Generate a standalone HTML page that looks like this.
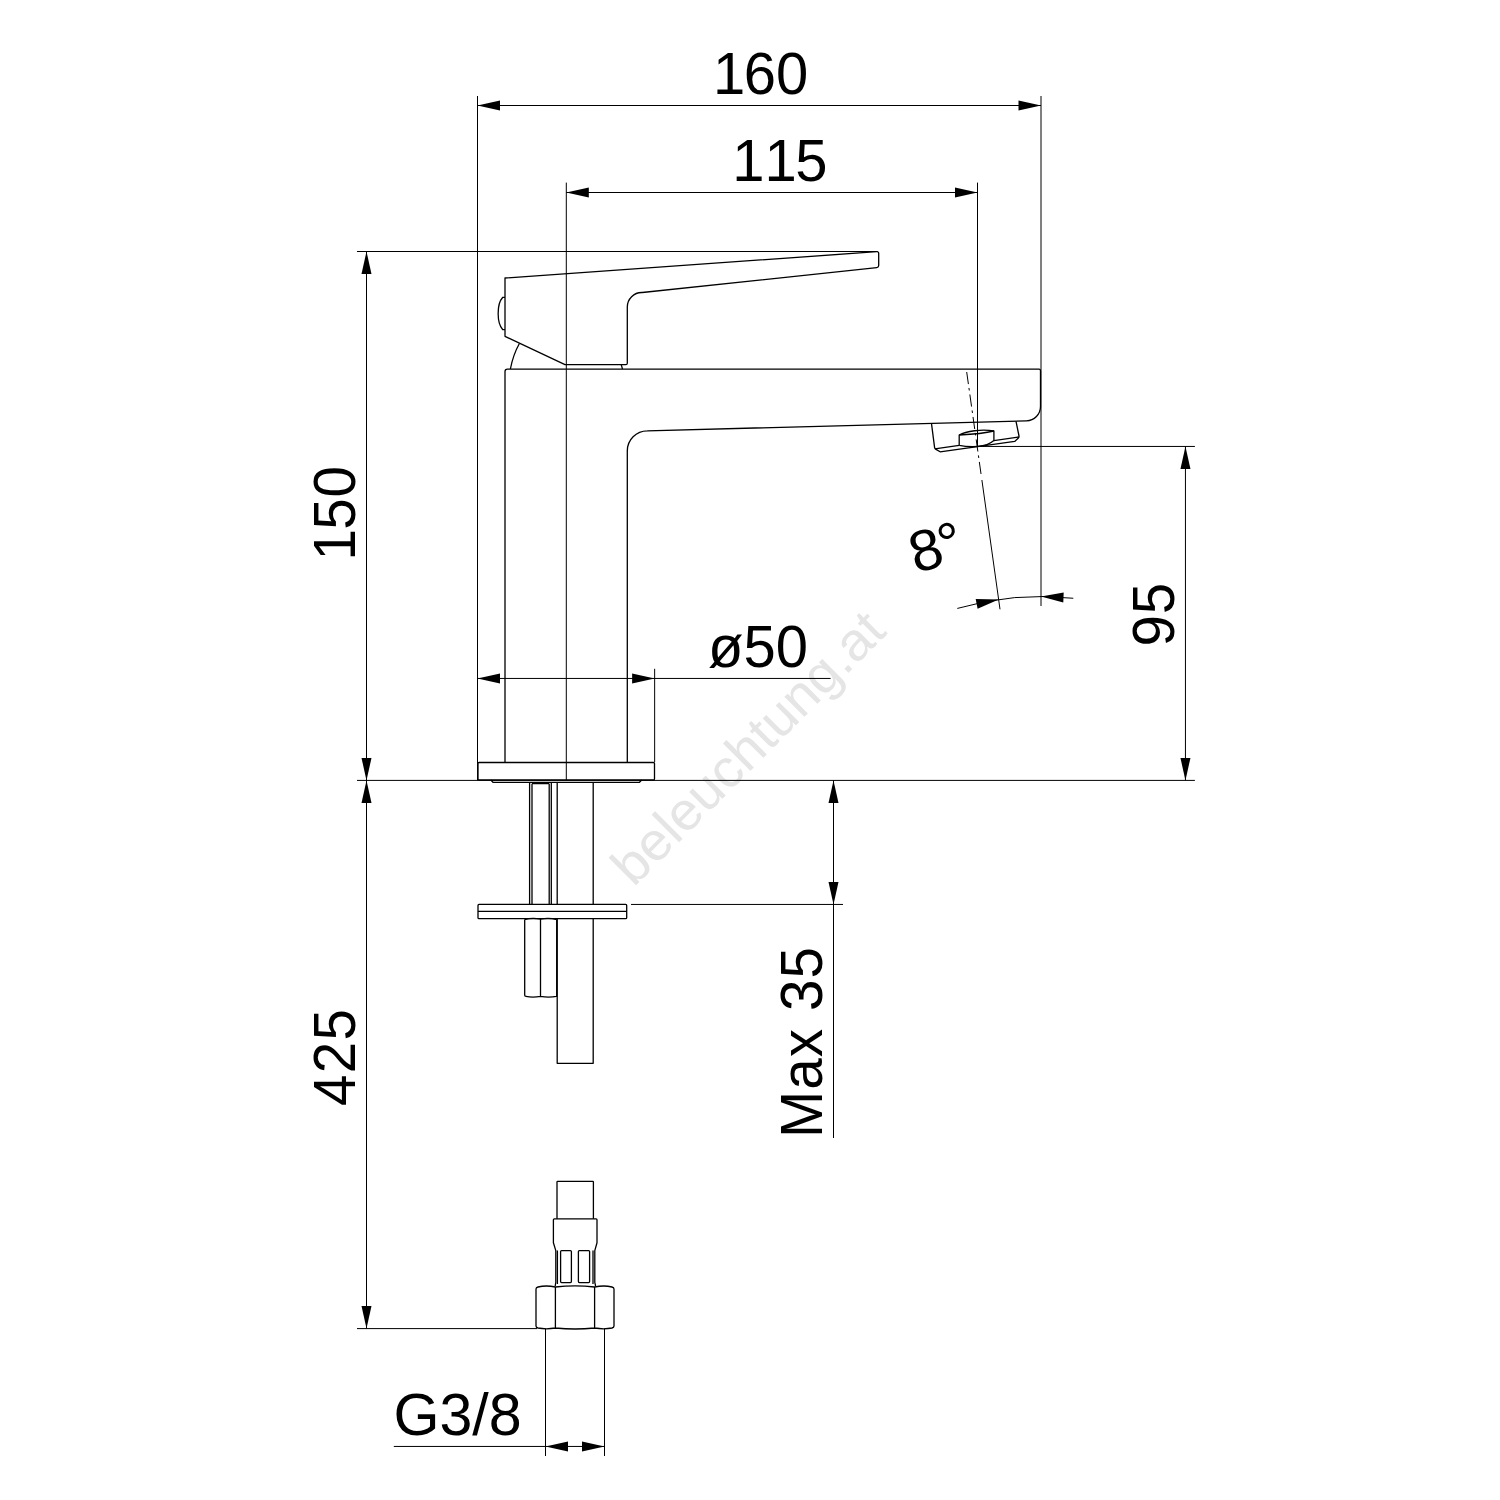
<!DOCTYPE html>
<html lang="de">
<head>
<meta charset="utf-8">
<title>Waschtischarmatur – Maßzeichnung</title>
<style>
html,body{margin:0;padding:0;background:#fff;}
body{width:1500px;height:1500px;overflow:hidden;}
svg{display:block;font-family:"Liberation Sans",Arial,Helvetica,sans-serif;font-kerning:none;}
.txt text{fill:#000;}
.thin{fill:none;stroke:#000;stroke-width:1;}
.obj{fill:none;stroke:#000;stroke-width:1.3;stroke-linejoin:round;stroke-linecap:butt;}
.arr{fill:#000;stroke:none;}
</style>
</head>
<body>
<svg width="1500" height="1500" viewBox="0 0 1500 1500">
<rect width="1500" height="1500" fill="#fff"/>
<g class="wm"><text transform="translate(633.4 887.8) rotate(-45) scale(1 0.975)" font-size="54.9" fill="#e5e5e5">beleuchtung.at</text></g>
<g class="thin">
<path d="M477.50,96.00 L477.50,780.40 M1041.00,96.00 L1041.00,606.00 M477.50,105.50 L1041.00,105.50 M566.30,182.60 L566.30,780.40 M977.50,182.60 L977.50,446.45 M566.30,192.50 L977.50,192.50 M357.00,251.50 L877.50,251.50 M366.50,251.50 L366.50,1328.60 M357.00,780.40 L1194.90,780.40 M357.00,1328.60 L537.00,1328.60 M977.50,446.45 L1194.90,446.45 M1185.45,446.45 L1185.45,780.40 M477.50,678.45 L830.60,678.45 M654.65,668.80 L654.65,762.00 M833.50,780.40 L833.50,1138.00 M631.00,904.45 L843.00,904.45 M545.50,1328.60 L545.50,1456.00 M604.50,1328.60 L604.50,1456.00 M393.80,1446.45 L604.50,1446.45 M957.30,608.43 A299.5,299.5 0 0 1 1073.30,598.25"/>
<path d="M966.7,372 L981.1,474.5" stroke-dasharray="12.2 3.9 2.6 4"/>
<path d="M981.9,480 L1000,609.3"/>
</g>
<g class="arr">
<polygon points="477.50,105.50 500.00,110.50 500.00,100.50"/>
<polygon points="1041.00,105.50 1018.50,100.50 1018.50,110.50"/>
<polygon points="566.30,192.50 588.80,197.50 588.80,187.50"/>
<polygon points="977.50,192.50 955.00,187.50 955.00,197.50"/>
<polygon points="366.50,251.50 361.50,274.00 371.50,274.00"/>
<polygon points="366.50,780.40 371.50,757.90 361.50,757.90"/>
<polygon points="366.50,780.40 361.50,802.90 371.50,802.90"/>
<polygon points="366.50,1328.60 371.50,1306.10 361.50,1306.10"/>
<polygon points="1185.45,446.45 1180.45,468.95 1190.45,468.95"/>
<polygon points="1185.45,780.40 1190.45,757.90 1180.45,757.90"/>
<polygon points="477.50,678.45 500.00,683.45 500.00,673.45"/>
<polygon points="654.65,678.45 632.15,673.45 632.15,683.45"/>
<polygon points="833.50,780.40 828.50,802.90 838.50,802.90"/>
<polygon points="833.50,904.45 838.50,881.95 828.50,881.95"/>
<polygon points="545.50,1446.45 568.00,1451.45 568.00,1441.45"/>
<polygon points="604.50,1446.45 582.00,1441.45 582.00,1451.45"/>
<polygon points="998.70,599.50 975.66,599.01 977.62,608.82"/>
<polygon points="1041.00,596.50 1063.28,602.40 1063.68,592.40"/>
</g>
<g class="obj">
<path d="M505,278 L876.8,251.7 Q878.7,251.6 878.7,253.5 L878.7,265.6 Q878.7,267.4 876.8,267.6 L642.3,292.5 A14.5,14.5 0 0 0 627.3,307.3 L627.3,363.2 Q627.3,364.7 625.8,364.7 L565,364.7 L505,336.3 Z"/>
<path d="M505,297.3 L502.8,297.3 C496.6,304 496.6,323 502.8,329.7 L505,329.7"/>
<path d="M510.4,369 Q513,355 519.4,343.5"/>
<path d="M621.3,364.9 L622.5,369"/>
<path d="M505,762.5 L505,371.5 Q505,369.2 507.4,369.2 L1039,369.2 Q1040.5,369.2 1040.5,370.7 L1040.5,406.5 A14.2,14.2 0 0 1 1026.5,420.8 L647.3,430.85 A20,20 0 0 0 627.3,451 L627.3,762.5"/>
<path d="M479,762.5 L653.5,762.5 Q654.5,762.5 654.5,763.5 L654.5,779 Q654.5,780 653.5,780 L479,780 Q478,780 478,779 L478,763.5 Q478,762.5 479,762.5 Z"/>
<path d="M490.8,780 L493,782.3 L639.5,782.3 L641.7,780"/>
<path d="M529.6,782.5 L529.6,904.2 M532,783.7 L532,904.2 M532,783.7 L549.2,783.7 M549.2,783.7 L549.2,904.2 M551.3,782.5 L551.3,904.2 M557.2,782.5 L557.2,904.2"/>
<path d="M593.2,782.5 L593.2,904.2 M593.2,918.7 L593.2,1063.3 L557.2,1063.3 L557.2,918.7"/>
<path d="M479,904.45 L625.7,904.45 Q626.7,904.45 626.7,905.45 L626.7,917.7 Q626.7,918.7 625.7,918.7 L479,918.7 Q478,918.7 478,917.7 L478,905.45 Q478,904.45 479,904.45 Z M478,911.4 L626.7,911.4"/>
<path d="M524.7,919.5 L524.7,995.3 Q524.7,996.3 526,996.3 Q532.5,997.8 540.5,996.3 Q548.5,997.8 556.7,996.3 L556.7,919.5 M540.5,919.2 L540.5,996.3 M524.7,919.5 Q532.5,917.6 540.5,919.2 Q548.5,917.6 556.7,919.5"/>
<path d="M557,1218.8 L557,1182 Q557,1181.4 557.6,1181.4 L592.8,1181.4 Q593.4,1181.4 593.4,1182 L593.4,1218.8"/>
<path d="M554.4,1218.8 L596,1218.8 Q597,1218.8 597,1219.8 L597,1242.8 L594.8,1250.6 L594.8,1282.4 L595.6,1286 M554.4,1218.8 Q553.4,1218.8 553.4,1219.8 L553.4,1242.8 L555.8,1250.6 L555.8,1282.4 L555.2,1286"/>
<path d="M557.4,1250.6 L557.4,1284 M593,1250.6 L593,1284"/>
<path d="M561.60,1250.60 L570.40,1250.60 Q571.40,1250.60 571.40,1251.60 L571.40,1281.60 Q571.40,1282.60 570.40,1282.60 L561.60,1282.60 Q560.60,1282.60 560.60,1281.60 L560.60,1251.60 Q560.60,1250.60 561.60,1250.60 Z"/>
<path d="M579.40,1250.60 L588.60,1250.60 Q589.60,1250.60 589.60,1251.60 L589.60,1281.60 Q589.60,1282.60 588.60,1282.60 L579.40,1282.60 Q578.40,1282.60 578.40,1281.60 L578.40,1251.60 Q578.40,1250.60 579.40,1250.60 Z"/>
<path d="M536,1289 Q536,1287.5 538,1287 Q546,1285 555.4,1287 Q575,1284.8 594.6,1287 Q604,1285 612,1287 Q614,1287.5 614,1289 L614,1326 Q614,1327.5 612,1328 Q604,1329.6 594.6,1328 Q575,1330 555.4,1328 Q546,1329.6 538,1328 Q536,1327.5 536,1326 Z M555.4,1287 L555.4,1328 M594.6,1287 L594.6,1328"/>
<path d="M931.5,423.6 L934.6,447.6 Q934.9,448.9 936,449.4 L940.1,451.8 L1014.7,441.4 L1018.2,438.2 Q1019.2,437.4 1019,436 L1016,421.3"/>
<path d="M934.8,448.8 L959.2,445.3 M993.9,440.6 L1019,437"/>
<path d="M959.2,445.3 L959.2,435 C966,431 982,429 993.9,431 L993.9,440.6 C990,444 984,446 978,446.4 C971,446.8 964,446.3 959.2,445.3"/>
<path d="M959.2,435 C970,434.5 984,433.5 993.9,431"/>
</g>
<g class="txt">
<text transform="translate(711.60 94.00) scale(1 1.015)" font-size="58" dx="1.4 -1.4 0">160</text>
<text transform="translate(730.80 180.70) scale(1 1.015)" font-size="58" dx="1.4 0 -1.4">115</text>
<text transform="translate(355.10 561.90) rotate(-90) scale(0.975 1.03)" font-size="58" letter-spacing="0.77" dx="1.4 -1.4 0">150</text>
<text transform="translate(355.00 1105.90) rotate(-90) scale(0.975 1.03)" font-size="58" letter-spacing="0.77" dx="0 0.5 0.6">425</text>
<text transform="translate(1173.80 646.50) rotate(-90) scale(0.975 1.03)" font-size="58" letter-spacing="0.77">95</text>
<text transform="translate(822.10 1137.90) rotate(-90) scale(0.975 1.03)" font-size="58" letter-spacing="1.1">Max 35</text>
<text transform="translate(708.00 666.60) scale(1 1.015)" font-size="58">ø50</text>
<text transform="translate(393.40 1435.20) scale(1.02 1.015)" font-size="58">G3/8</text>
<text transform="translate(915.70 573.50) rotate(-16)" font-size="58" letter-spacing="-2.2">8°</text>
</g>
</svg>
</body>
</html>
